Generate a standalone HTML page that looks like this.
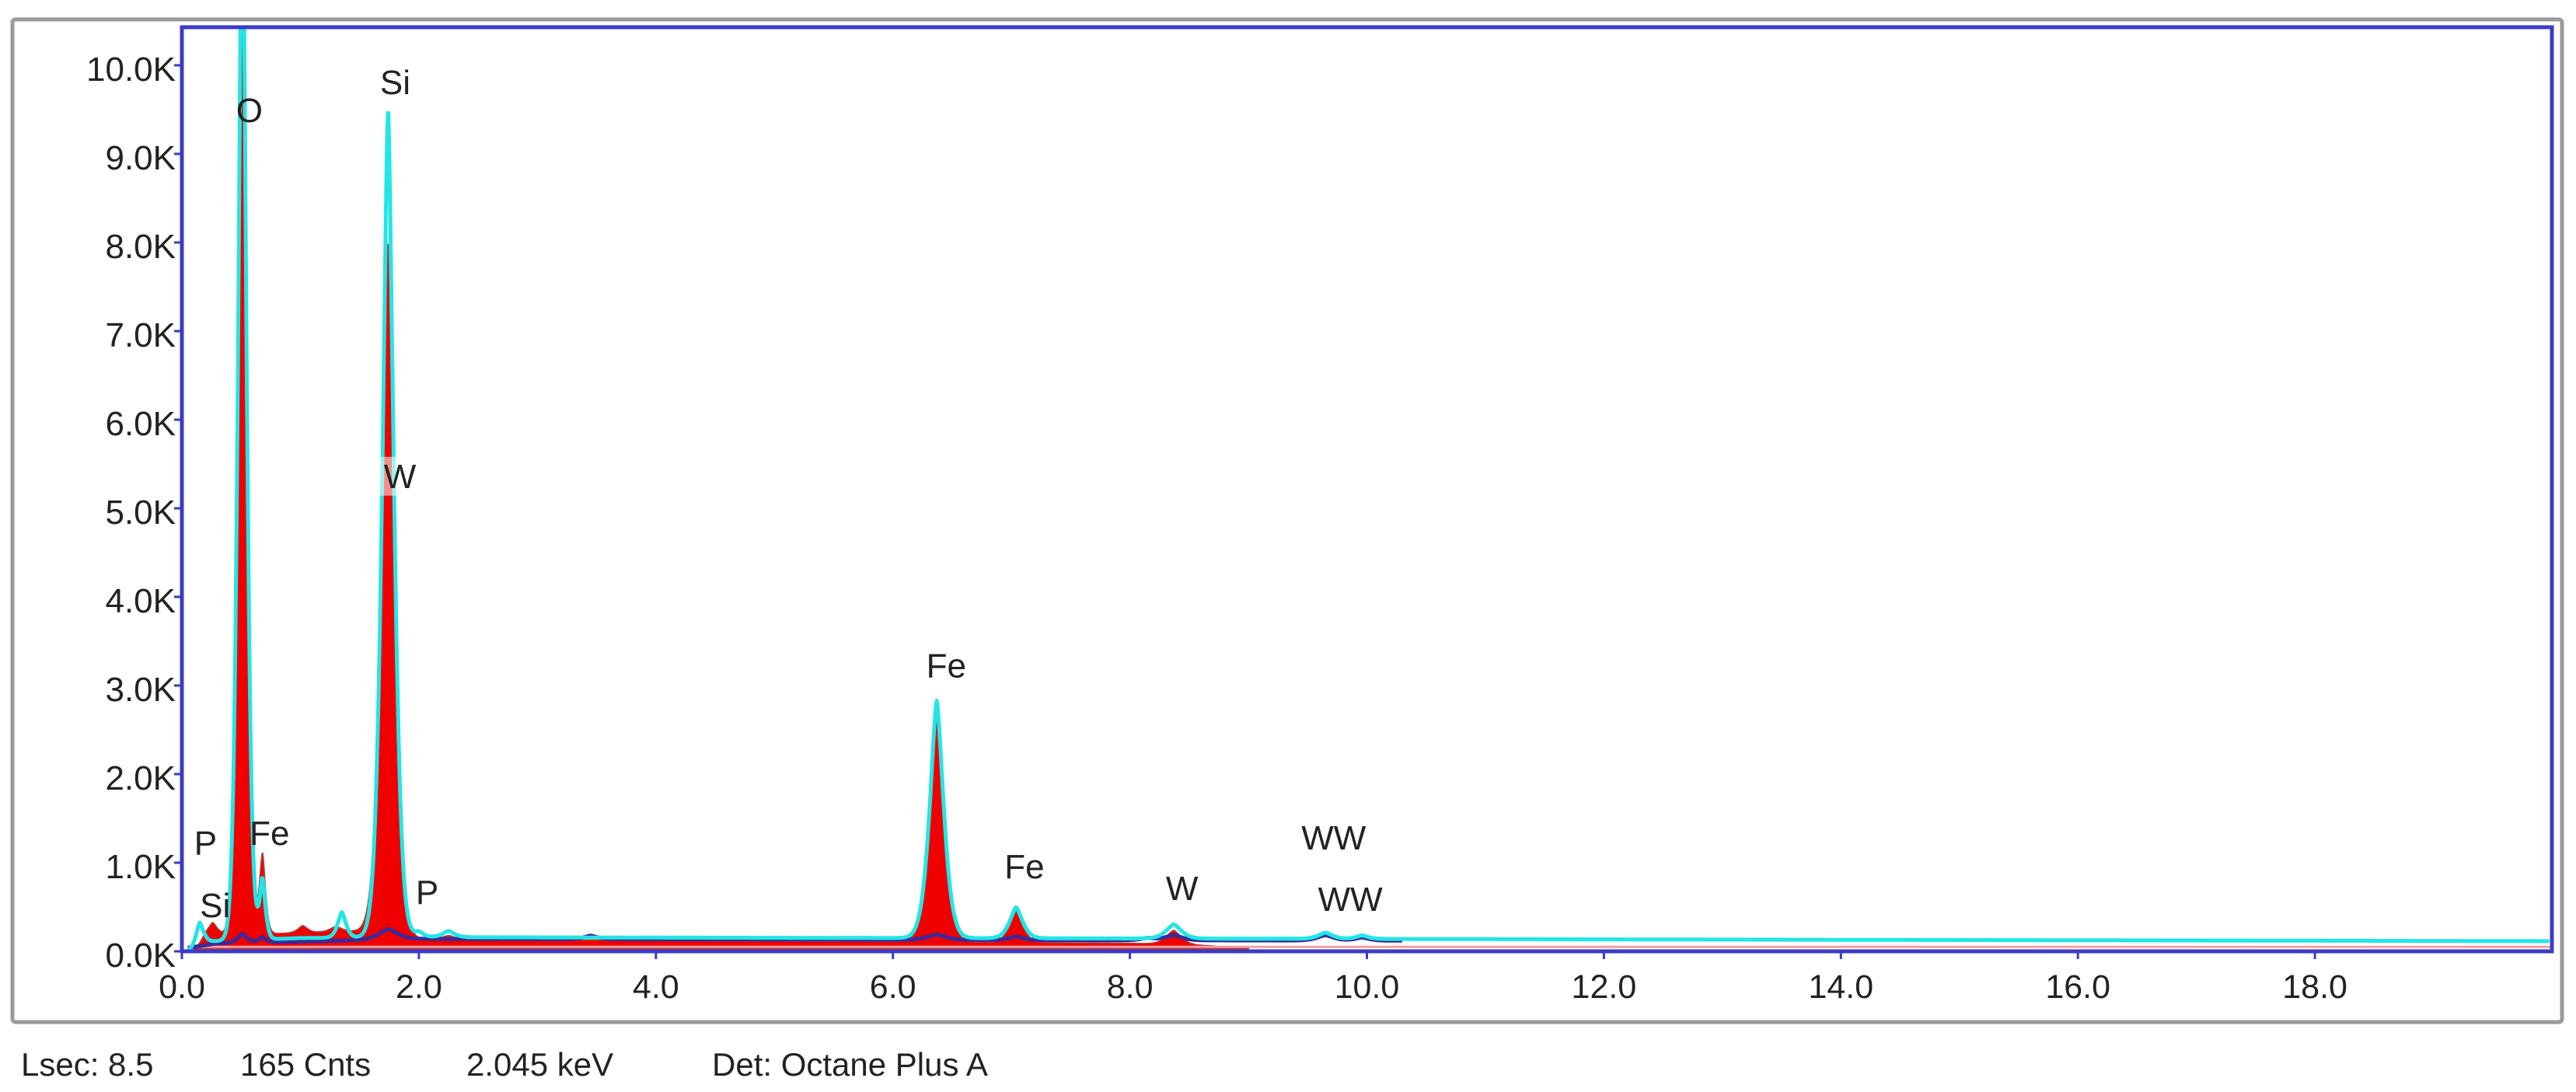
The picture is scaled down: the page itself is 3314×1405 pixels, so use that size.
<!DOCTYPE html>
<html><head><meta charset="utf-8"><style>
html,body{margin:0;padding:0;background:#fff;}
svg{display:block;}
text{font-family:"Liberation Sans",sans-serif;}
</style></head><body>
<svg id="chart" width="3314" height="1405" viewBox="0 0 3314 1405" xmlns="http://www.w3.org/2000/svg">
<rect x="16" y="25" width="3280" height="1290" fill="#fff" stroke="#9a9a9a" stroke-width="5" rx="4"/>
<g id="series"></g>
<rect x="234" y="35" width="3049" height="1189" fill="none" stroke="#3b3bc4" stroke-width="5"/>
<g id="axes"></g>
<g id="labels"></g>
<g font-size="42" fill="#222">
<text x="27" y="1384">Lsec: 8.5</text>
<text x="309" y="1384">165 Cnts</text>
<text x="600" y="1384">2.045 keV</text>
<text x="916" y="1384">Det: Octane Plus A</text>
</g>
</svg>
<script>
// ---- data ----
const xTicks = [0, 2, 4, 6, 8, 10, 12, 14, 16, 18];
const xTickLabels = ["0.0","2.0","4.0","6.0","8.0","10.0","12.0","14.0","16.0","18.0"];
const yTicks = [0,1000,2000,3000,4000,5000,6000,7000,8000,9000,10000];
const yTickLabels = ["0.0K","1.0K","2.0K","3.0K","4.0K","5.0K","6.0K","7.0K","8.0K","9.0K","10.0K"];

// red (filled) spectrum
const redPeakE = [0.26, 0.51, 0.68, 1.02, 1.30, 1.74, 2.25, 6.37, 7.04, 8.37];
const redPeakH = [150, 11000, 900, 80, 60, 7800, 40, 2680, 350, 160];
const redPeakW = [0.04, 0.035, 0.025, 0.04, 0.05, 0.055, 0.05, 0.06, 0.055, 0.065];
const redBgE = [0.1, 0.2, 0.8, 1.6, 1.9, 4.0, 6.0, 8.0, 8.7, 9.0];
const redBgC = [0, 170, 200, 230, 140, 120, 110, 90, 60, 0];

// cyan spectrum
const cyanPeakE = [0.15, 0.51, 0.68, 1.35, 1.74, 2.0, 2.25, 6.37, 7.04, 8.37, 9.65, 9.96];
const cyanPeakH = [250, 12500, 680, 290, 9350, 60, 70, 2680, 350, 160, 70, 40];
const cyanPeakW = [0.03, 0.035, 0.025, 0.035, 0.05, 0.04, 0.05, 0.06, 0.055, 0.065, 0.06, 0.05];
const cyanBgE = [0.05, 0.2, 1.0, 2.0, 4.0, 8.0, 12.0, 16.0, 20.0];
const cyanBgC = [0, 110, 150, 160, 155, 145, 135, 125, 115];

// navy spectrum
const navyPeakE = [0.51, 0.68, 1.74, 3.45, 6.37, 7.04, 8.15, 8.37, 9.65, 9.96];
const navyPeakH = [100, 60, 120, 40, 60, 40, 25, 60, 60, 35];
const navyPeakW = [0.04, 0.03, 0.08, 0.06, 0.08, 0.06, 0.06, 0.07, 0.07, 0.06];
const navyBgE = [0.05, 0.3, 1.0, 2.0, 4.0, 8.0, 10.3];
const navyBgC = [40, 90, 110, 140, 135, 125, 120];

const elemLabels = ["O","Si","W","P","Si","Fe","P","Fe","Fe","W","WW","WW"];
const elemLabelE = [0.57, 1.80, 1.84, 0.20, 0.28, 0.74, 2.07, 6.45, 7.11, 8.44, 9.72, 9.86];
const elemLabelC = [9360, 9675, 5230, 1090, 385, 1200, 535, 3090, 825, 580, 1150, 455];

// ---- scales ----
const X0 = 234, X1 = 3283, Y0 = 1224, YT = 35;
const xMax = 20, yPerK = 114;
function xs(e){ return X0 + e / xMax * (X1 - X0); }
function ys(c){ return Y0 - c / 1000 * yPerK; }
function interp(ex, cx, e){
  if (e <= ex[0]) return cx[0];
  for (let i = 1; i < ex.length; i++) if (e <= ex[i]) { const t = (e - ex[i-1]) / (ex[i] - ex[i-1]); return cx[i-1] + t * (cx[i] - cx[i-1]); }
  return cx[cx.length - 1];
}
function spec(pE, pH, pW, bE, bC, e){
  let v = interp(bE, bC, e);
  for (let i = 0; i < pE.length; i++){ const d = Math.abs(e - pE[i]) / pW[i]; v += pH[i] * Math.exp(-0.6 * Math.pow(d, 1.5)); }
  return v;
}
function buildPts(pE, pH, pW, bE, bC, eMin, eMax){
  const pts = [];
  for (let e = eMin; e <= eMax + 1e-9; e += 0.004){
    let y = ys(spec(pE, pH, pW, bE, bC, e));
    if (y < YT) y = YT;
    pts.push(xs(e).toFixed(1) + "," + y.toFixed(1));
  }
  return pts;
}
const NS = "http://www.w3.org/2000/svg";
const gS = document.getElementById("series");

const redPts = buildPts(redPeakE, redPeakH, redPeakW, redBgE, redBgC, 0.1, 9.0);
const red = document.createElementNS(NS, "polygon");
red.setAttribute("points", xs(0.1) + "," + ys(30) + " " + redPts.join(" ") + " " + xs(9.0) + "," + ys(30));
red.setAttribute("fill", "#f00000");
red.setAttribute("stroke", "#c03030");
red.setAttribute("stroke-width", "2");


gS.appendChild(red);

const base = document.createElementNS(NS, "line");
base.setAttribute("x1", xs(0.1)); base.setAttribute("x2", xs(20));
base.setAttribute("y1", ys(50)); base.setAttribute("y2", ys(50));
base.setAttribute("stroke", "#f4a0a0"); base.setAttribute("stroke-width", "3");


gS.appendChild(base);

const navy = document.createElementNS(NS, "polyline");
navy.setAttribute("points", buildPts(navyPeakE, navyPeakH, navyPeakW, navyBgE, navyBgC, 0.05, 10.3).join(" "));
navy.setAttribute("fill", "none"); navy.setAttribute("stroke", "#3a2a9a"); navy.setAttribute("stroke-width", "5");


gS.appendChild(navy);

const cyan = document.createElementNS(NS, "polyline");
cyan.setAttribute("points", buildPts(cyanPeakE, cyanPeakH, cyanPeakW, cyanBgE, cyanBgC, 0.05, 19.98).join(" "));
cyan.setAttribute("fill", "none"); cyan.setAttribute("stroke", "#22e6e6"); cyan.setAttribute("stroke-width", "5");
cyan.setAttribute("stroke-linejoin", "round");


gS.appendChild(cyan);

// axes
const gA = document.getElementById("axes");
xTicks.forEach((v, i) => {
  const t = document.createElementNS(NS, "line");
  t.setAttribute("x1", xs(v)); t.setAttribute("x2", xs(v)); t.setAttribute("y1", Y0); t.setAttribute("y2", Y0 + 10);
  t.setAttribute("stroke", "#3b3bc4"); t.setAttribute("stroke-width", "3");
  
  
  gA.appendChild(t);
  const l = document.createElementNS(NS, "text");
  l.setAttribute("x", xs(v)); l.setAttribute("y", 1284); l.setAttribute("font-size", "43");
  l.setAttribute("text-anchor", "middle"); l.setAttribute("fill", "#222");
  l.textContent = xTickLabels[i];
  
  
  gA.appendChild(l);
});
yTicks.forEach((v, i) => {
  const t = document.createElementNS(NS, "line");
  t.setAttribute("x1", X0 - 10); t.setAttribute("x2", X0); t.setAttribute("y1", ys(v)); t.setAttribute("y2", ys(v));
  t.setAttribute("stroke", "#3b3bc4"); t.setAttribute("stroke-width", "3");
  
  
  gA.appendChild(t);
  const l = document.createElementNS(NS, "text");
  l.setAttribute("x", 226); l.setAttribute("y", ys(v) + 20); l.setAttribute("font-size", "44");
  l.setAttribute("text-anchor", "end"); l.setAttribute("fill", "#222");
  l.textContent = yTickLabels[i];
  
  
  gA.appendChild(l);
});

// element labels
const gL = document.getElementById("labels");
elemLabels.forEach((s, i) => {
  const x = xs(elemLabelE[i]), y = ys(elemLabelC[i]);
  if (s === "W" && i === 2) {
    const r = document.createElementNS(NS, "rect");
    r.setAttribute("x", x - 26); r.setAttribute("y", y - 40); r.setAttribute("width", 52); r.setAttribute("height", 50);
    r.setAttribute("fill", "rgba(255,255,255,0.55)");
    
    
    gL.appendChild(r);
  }
  const l = document.createElementNS(NS, "text");
  l.setAttribute("x", x); l.setAttribute("y", y); l.setAttribute("font-size", "44");
  l.setAttribute("text-anchor", "middle"); l.setAttribute("fill", "#222");
  l.textContent = s;
  
  
  gL.appendChild(l);
});
</script>
</body></html>
